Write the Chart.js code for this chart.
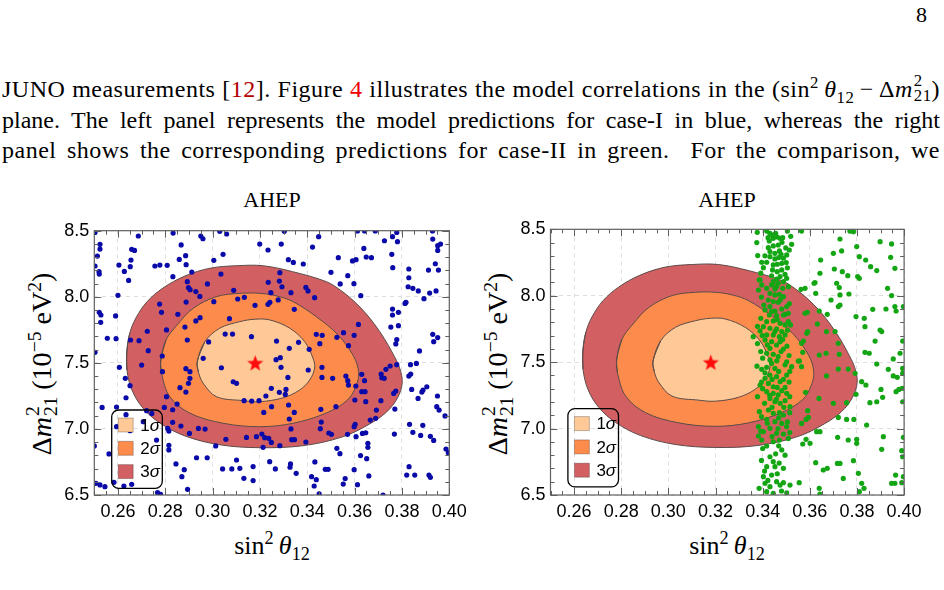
<!DOCTYPE html>
<html>
<head>
<meta charset="utf-8">
<script src="https://cdn.jsdelivr.net/npm/chart.js@4.4.1/dist/chart.umd.min.js"></script>
<style>
  html, body { margin: 0; padding: 0; background: #fff; }
  body { width: 944px; height: 590px; position: relative; overflow: hidden;
         font-family: "Liberation Serif", "Times New Roman", serif; color: #000; }
  .line { position: absolute; left: 2px; width: 938px; font-size: 24px; line-height: 1;
          text-align: justify; text-align-last: justify; }
  .wide { letter-spacing: 0.5px; }
  sup, sub { font-size: 0.7em; line-height: 0; }
  .ss { display: inline-block; position: relative; width: 0.74em; height: 0; margin-left: 1px; }
  .ss .sp, .ss .sb { position: absolute; left: 0; font-size: 0.7em; line-height: 1; }
  .ss .sp { bottom: 0.42em; }
  .ss .sb { top: -0.53em; }
  .ref { color: #b30000; }
  .fig { color: #ee0000; }
  .pageno { position: absolute; right: 17px; top: 4px; font-size: 22px; line-height: 1; }
  .title { position: absolute; top: 189px; font-size: 22px; line-height: 1; transform: translateX(-50%); white-space: nowrap; }
  .xtitle { position: absolute; top: 533px; font-size: 26px; line-height: 1; transform: translateX(-50%); white-space: nowrap; }
  .ytitle { position: absolute; font-size: 28px; line-height: 1; white-space: nowrap;
            transform: translate(-50%, -50%) rotate(-90deg); }
  canvas { position: absolute; top: 190px; }
</style>
</head>
<body>
<div class="pageno">8</div>
<div class="line wide" style="top:77px">JUNO measurements [<span class="ref">12</span>]. Figure <span class="fig">4</span> illustrates the model correlations in the (sin<sup>2</sup>&thinsp;<i>θ</i><sub>12</sub>&thinsp;−&thinsp;Δ<i>m</i><span class="ss"><span class="sp">2</span><span class="sb">21</span></span>)</div>
<div class="line" style="top:108px">plane. The left panel represents the model predictions for case-I in blue, whereas the right</div>
<div class="line wide" style="top:138px">panel shows the corresponding predictions for case-II in green. &nbsp;For the comparison, we</div>

<div class="title" style="left:272px">AHEP</div>
<div class="title" style="left:727px">AHEP</div>
<div class="xtitle" style="left:272px">sin<sup>2</sup>&thinsp;<i>θ</i><sub>12</sub></div>
<div class="xtitle" style="left:727px">sin<sup>2</sup>&thinsp;<i>θ</i><sub>12</sub></div>
<div class="ytitle" style="left:42px;top:364px">Δ<i>m</i><span class="ss"><span class="sp">2</span><span class="sb">21</span></span>&thinsp;(10<sup>−5</sup> eV<sup>2</sup>)</div>
<div class="ytitle" style="left:498px;top:364px">Δ<i>m</i><span class="ss"><span class="sp">2</span><span class="sb">21</span></span>&thinsp;(10<sup>−5</sup> eV<sup>2</sup>)</div>

<canvas id="left" width="475" height="380" style="left:0px"></canvas>
<canvas id="right" width="474" height="380" style="left:470px"></canvas>

<script>
// axis ranges and tick labels
const xRange = [0.25, 0.40];
const yRange = [6.5, 8.5];
const xTicks = [0.26, 0.28, 0.30, 0.32, 0.34, 0.36, 0.38, 0.40];
const yTicks = [6.5, 7.0, 7.5, 8.0, 8.5];
const xMinorStep = 0.005;
const yMinorStep = 0.1;

// best fit point
const bestFit = [0.318, 7.50];

// allowed regions (contour outlines)
const sigma1 = [[0.2935,7.508],[0.2967,7.660],[0.3030,7.762],[0.3115,7.812],[0.3178,7.830],[0.3241,7.825],[0.3326,7.762],[0.3389,7.660],[0.3424,7.535],[0.3431,7.461],[0.3410,7.370],[0.3368,7.295],[0.3297,7.235],[0.3199,7.206],[0.3129,7.214],[0.3016,7.244],[0.2960,7.346],[0.2940,7.430]];
const sigma2 = [[0.2781,7.522],[0.2803,7.673],[0.2850,7.787],[0.2918,7.913],[0.3016,8.001],[0.3115,8.026],[0.3199,8.026],[0.3271,8.006],[0.3340,7.963],[0.3438,7.849],[0.3530,7.711],[0.3597,7.545],[0.3617,7.424],[0.3605,7.320],[0.3570,7.219],[0.3481,7.121],[0.3340,7.043],[0.3199,7.017],[0.3044,7.043],[0.2904,7.119],[0.2819,7.244],[0.2784,7.421]];
const sigma3 = [[0.2638,7.598],[0.2650,7.726],[0.2676,7.840],[0.2722,7.961],[0.2790,8.066],[0.2883,8.157],[0.2989,8.216],[0.3102,8.235],[0.3212,8.235],[0.3338,8.190],[0.3481,8.114],[0.3540,8.050],[0.3592,7.975],[0.3642,7.885],[0.3686,7.787],[0.3725,7.685],[0.3760,7.575],[0.3790,7.462],[0.3801,7.348],[0.3781,7.234],[0.3735,7.128],[0.3663,7.037],[0.3549,6.940],[0.3381,6.873],[0.3199,6.858],[0.3030,6.880],[0.2883,6.947],[0.2777,7.045],[0.2705,7.159],[0.2659,7.295],[0.2638,7.446]];
const sigmaLabels = ['1', '2', '3'];
const sigmaColors = ['#fec996', '#fd8c4c', '#d26063'];

// case-I model predictions (blue)
const caseIPoints = [
[0.2503,8.487],[0.2524,8.397],[0.2524,8.361],[0.2513,8.308],[0.2503,8.233],[0.2520,8.190],[0.2521,8.172],[0.2686,8.460],[0.2833,8.482],[0.2950,8.460],[0.2959,8.439],[0.3030,8.495],[0.3059,8.475],[0.2658,8.359],[0.2670,8.351],[0.3199,8.399],[0.3234,8.354],[0.2867,8.392],[0.2886,8.311],[0.2859,8.283],[0.2655,8.278],[0.2652,8.228],[0.2604,8.240],[0.2627,8.192],[0.2645,8.124],[0.2756,8.233],[0.2777,8.240],[0.2808,8.238],[0.2888,8.243],[0.2832,8.152],[0.3044,8.321],[0.3005,8.276],[0.3035,8.172],[0.2912,8.187],[0.2893,8.114],[0.2898,8.069],[0.2905,8.054],[0.2929,8.039],[0.2946,8.003],[0.2978,8.097],[0.3089,8.049],[0.3106,7.983],[0.3134,7.996],[0.2600,8.011],[0.2521,7.882],[0.2528,7.862],[0.2527,7.807],[0.2590,7.855],[0.2555,7.686],[0.2592,7.683],[0.2776,7.945],[0.2784,7.882],[0.2853,7.867],[0.2888,7.960],[0.3005,7.963],[0.3179,7.935],[0.3234,7.943],[0.3071,7.834],[0.2883,7.771],[0.2929,7.817],[0.2947,7.842],[0.2893,7.673],[0.2805,7.749],[0.2724,7.739],[0.2653,7.673],[0.2689,7.668],[0.2728,7.592],[0.2787,7.552],[0.2983,7.658],[0.3053,7.718],[0.3084,7.718],[0.3164,7.698],[0.2960,7.534],[0.2503,7.580],
[0.3303,8.495],[0.3448,8.455],[0.3290,8.399],[0.3422,8.376],[0.3320,8.281],[0.3341,8.260],[0.3383,8.248],[0.3531,8.296],[0.3591,8.271],[0.3606,8.281],[0.3639,8.366],[0.3649,8.301],[0.3671,8.296],[0.3612,8.498],[0.3642,8.498],[0.3687,8.498],[0.3726,8.424],[0.3760,8.455],[0.3778,8.487],[0.3781,8.417],[0.3929,8.498],[0.3757,8.321],[0.3761,8.220],[0.3829,8.210],[0.3829,8.144],[0.3826,8.076],[0.3846,8.064],[0.3869,8.044],[0.3893,7.986],[0.3917,8.028],[0.3944,8.044],[0.3930,8.437],[0.3951,8.387],[0.3951,8.351],[0.3912,8.202],[0.3941,8.250],[0.3954,8.202],[0.3817,7.958],[0.3813,7.950],[0.3760,7.907],[0.3760,7.862],[0.3785,7.882],[0.3753,7.771],[0.3785,7.781],[0.3774,7.643],[0.3778,7.676],[0.3874,7.590],[0.3930,7.716],[0.3934,7.660],[0.3951,7.691],[0.3500,8.185],[0.3571,8.160],[0.3539,8.097],[0.3597,8.099],[0.3626,8.008],[0.3616,7.791],[0.3598,7.708],[0.3553,7.728],[0.3525,7.693],[0.3574,7.630],[0.3463,7.708],[0.3438,7.716],[0.3453,7.645],[0.3408,7.602],[0.3363,7.655],[0.3324,7.610],[0.3270,7.665],[0.3284,8.182],[0.3282,8.119],[0.3293,8.076],[0.3235,8.109],[0.3246,8.031],[0.3331,8.031],[0.3394,8.071],[0.3403,8.044],[0.3431,7.993],[0.3242,7.958],[0.3277,7.976],[0.3345,7.905],[0.3286,7.539],[0.3268,7.524],[0.3963,8.399],
[0.2700,7.483],[0.2788,7.433],[0.2606,7.466],[0.2631,7.383],[0.2651,7.327],[0.2634,7.236],[0.2887,7.456],[0.2904,7.433],[0.2904,7.383],[0.2898,7.345],[0.2862,7.312],[0.2887,7.279],[0.2805,7.244],[0.3037,7.463],[0.3087,7.357],[0.3101,7.345],[0.3133,7.214],[0.3165,7.211],[0.3196,7.214],[0.3216,7.125],[0.2850,7.188],[0.2831,7.145],[0.2796,7.163],[0.2533,7.163],[0.2594,7.166],[0.2721,7.138],[0.2743,7.117],[0.2707,7.055],[0.2831,7.050],[0.2866,7.022],[0.2810,7.004],[0.2815,6.984],[0.2902,6.966],[0.2940,7.004],[0.2968,6.999],[0.2500,6.871],[0.2562,6.811],[0.2594,7.017],[0.2634,7.108],[0.2651,6.987],[0.2763,6.916],[0.2815,6.876],[0.2815,6.841],[0.2845,6.735],[0.2880,6.692],[0.2870,6.639],[0.2894,6.543],[0.2767,6.518],[0.2780,6.505],[0.2932,6.782],[0.2977,6.782],[0.3013,6.871],[0.3056,6.921],[0.3042,6.697],[0.3081,6.697],[0.3101,6.765],[0.3115,6.702],[0.3171,6.715],[0.3241,6.752],[0.3132,6.626],[0.3213,6.861],[0.3185,6.941],[0.3143,6.936],[0.3171,6.609],[0.2507,6.588],[0.2524,6.576],[0.2545,6.563],[0.2583,6.596],[0.2625,6.568],[0.2658,6.581],
[0.3289,7.466],[0.3404,7.446],[0.3462,7.466],[0.3462,7.390],[0.3507,7.383],[0.3563,7.400],[0.3571,7.365],[0.3574,7.332],[0.3605,7.325],[0.3630,7.413],[0.3642,7.365],[0.3712,7.415],[0.3715,7.388],[0.3725,7.383],[0.3732,7.451],[0.3750,7.476],[0.3778,7.486],[0.3836,7.486],[0.3861,7.496],[0.3829,7.400],[0.3837,7.415],[0.3841,7.299],[0.3884,7.279],[0.3889,7.294],[0.3905,7.319],[0.3868,7.231],[0.3950,7.249],[0.3947,7.168],[0.3957,7.143],[0.3982,7.098],[0.3765,7.269],[0.3774,7.287],[0.3630,7.282],[0.3644,7.282],[0.3601,7.219],[0.3647,7.206],[0.3711,7.214],[0.3770,7.150],[0.3692,7.143],[0.3689,7.080],[0.3666,7.067],[0.3457,7.148],[0.3521,7.168],[0.3345,7.125],[0.3324,7.075],[0.3249,7.168],[0.3225,7.249],[0.3282,7.277],[0.3307,7.261],[0.3310,7.299],[0.3248,7.307],[0.3318,7.390],[0.3321,7.181],[0.3459,7.052],[0.3455,7.002],[0.3491,6.969],[0.3502,6.959],[0.3570,6.959],[0.3602,7.035],[0.3598,7.017],[0.3606,6.941],[0.3633,6.966],[0.3647,6.971],[0.3656,6.891],[0.3656,6.861],[0.3625,6.798],[0.3651,6.775],[0.3331,7.000],[0.3334,6.919],[0.3346,6.919],[0.3394,6.901],[0.3284,6.873],[0.3248,6.898],[0.3220,6.934],[0.3237,6.929],[0.3208,6.961],[0.3265,6.697],[0.3329,6.735],[0.3327,6.710],[0.3353,6.664],[0.3432,6.750],[0.3418,6.639],[0.3438,6.616],[0.3429,6.568],[0.3450,6.508],[0.3476,6.694],[0.3488,6.694],[0.3525,6.853],[0.3538,6.813],[0.3598,6.692],[0.3560,6.624],[0.3552,6.583],[0.3612,6.578],[0.3660,6.644],[0.3768,6.961],[0.3832,7.035],[0.3888,7.027],[0.3846,6.974],[0.3879,6.951],[0.3920,6.944],[0.3934,6.913],[0.3986,6.848],[0.3996,6.820],[0.3830,6.714],[0.3820,6.651],[0.3854,6.651],[0.3914,6.651],[0.3920,6.634],[0.3720,6.500]
];

// case-II model predictions (green)
const caseIIPoints = [
[0.3377,8.477],[0.3417,8.487],[0.3431,8.470],[0.3441,8.457],[0.3423,8.437],[0.3428,8.412],[0.3445,8.432],[0.3462,8.442],[0.3474,8.432],[0.3485,8.437],[0.3482,8.402],[0.3466,8.382],[0.3445,8.375],[0.3424,8.362],[0.3431,8.332],[0.3452,8.319],[0.3471,8.337],[0.3478,8.312],[0.3468,8.287],[0.3452,8.277],[0.3431,8.294],[0.3519,8.447],[0.3523,8.387],[0.3513,8.344],[0.3502,8.307],[0.3488,8.282],[0.3481,8.244],[0.3462,8.237],[0.3445,8.232],[0.3417,8.252],[0.3396,8.252],[0.3403,8.211],[0.3379,8.302],[0.3505,8.487],[0.3565,8.487],[0.3770,8.487],[0.3785,8.482],[0.3442,8.194],[0.3462,8.181],[0.3481,8.194],[0.3495,8.161],[0.3474,8.144],[0.3459,8.126],[0.3445,8.106],[0.3466,8.094],[0.3488,8.106],[0.3502,8.131],[0.3509,8.068],[0.3485,8.056],[0.3459,8.068],[0.3438,8.081],[0.3417,8.056],[0.3389,8.119],[0.3396,8.081],[0.3382,8.043],[0.3431,8.018],[0.3452,8.006],[0.3471,8.011],[0.3488,7.993],[0.3424,7.968],[0.3445,7.956],[0.3466,7.951],[0.3431,7.918],[0.3410,7.893],[0.3452,7.885],[0.3481,7.900],[0.3502,7.918],[0.3509,7.868],[0.3488,7.855],[0.3459,7.850],[0.3428,7.855],[0.3417,7.805],[0.3445,7.810],[0.3474,7.792],[0.3495,7.780],[0.3509,7.805],[0.3403,7.767],[0.3431,7.755],[0.3459,7.750],[0.3481,7.730],[0.3389,7.735],[0.3417,7.705],[0.3445,7.705],[0.3471,7.692],[0.3495,7.705],[0.3360,7.692],[0.3410,7.667],[0.3438,7.654],[0.3459,7.629],[0.3431,7.604],[0.3417,7.567],[0.3445,7.559],[0.3466,7.542],[0.3431,7.517],[0.3488,7.599],[0.3474,7.654],
[0.3392,8.170],[0.3438,8.150],[0.3505,8.210],[0.3452,8.050],[0.3395,7.990],[0.3475,7.970],[0.3513,7.940],[0.3405,7.930],[0.3438,7.880],[0.3496,7.860],[0.3392,7.830],[0.3462,7.820],[0.3518,7.780],[0.3378,7.770],[0.3452,7.730],[0.3505,7.740],[0.3398,7.700],[0.3485,7.670],[0.3378,7.640],[0.3420,7.630],[0.3503,7.620],[0.3392,7.580],[0.3478,7.580],[0.3512,7.550],[0.3400,7.530],[0.3460,7.510],[0.3495,7.480],[0.3376,7.470],[0.3468,7.430],[0.3410,7.420],[0.3515,7.430],[0.3440,7.370],[0.3395,7.350],[0.3512,7.350],[0.3462,7.310],[0.3400,7.300],[0.3495,7.310],[0.3430,7.250],[0.3378,7.240],[0.3515,7.240],[0.3458,7.220],[0.3408,7.190],[0.3490,7.160],[0.3440,7.160],[0.3515,7.120],[0.3395,7.090],[0.3468,7.080],[0.3505,7.050],[0.3420,7.040],[0.3465,7.000],[0.3392,6.980],[0.3440,6.940],[0.3515,6.970],[0.3468,6.870],[0.3400,6.850],[0.3455,6.810],[0.3395,6.760],[0.3470,6.740],[0.3408,6.680],[0.3462,6.660],[0.3385,6.550],[0.3480,6.530],[0.3422,6.610],[0.3495,6.800],[0.3375,8.400],[0.3498,8.360],[0.3410,8.300],[0.3500,8.250],[0.3455,8.470],[0.3385,8.120],
[0.3728,8.427],[0.3898,8.407],[0.3947,8.390],[0.3799,8.370],[0.3735,8.337],[0.3700,8.319],[0.3810,8.294],[0.3837,8.269],[0.3858,8.219],[0.3943,8.289],[0.3646,8.269],[0.3643,8.169],[0.3704,8.201],[0.3738,8.181],[0.3761,8.151],[0.3803,8.144],[0.3810,8.131],[0.3884,8.189],[0.3961,8.206],[0.3622,8.099],[0.3618,8.094],[0.3714,8.094],[0.3725,8.061],[0.3766,8.013],[0.3728,8.006],[0.3690,7.968],[0.3728,7.930],[0.3721,7.918],[0.3580,8.056],[0.3563,8.048],[0.3625,8.018],[0.3580,7.868],[0.3589,7.875],[0.3640,7.885],[0.3674,7.860],[0.3796,7.843],[0.3831,7.830],[0.3867,7.898],[0.3923,7.900],[0.3961,7.918],[0.3966,7.885],[0.3930,8.056],[0.3947,8.001],[0.3997,7.918],[0.3834,7.767],[0.3632,7.787],[0.3591,7.730],[0.3587,7.717],[0.3671,7.730],[0.3707,7.730],[0.3898,7.742],[0.3905,7.730],[0.3877,7.659],[0.3994,7.659],[0.3573,7.659],[0.3565,7.642],[0.3721,7.642],[0.3570,7.574],[0.3640,7.554],[0.3669,7.567],[0.3725,7.559],[0.3834,7.574],[0.3852,7.567],[0.3983,7.567],[0.3954,7.524],[0.3556,7.509],
[0.3396,7.446],[0.3417,7.461],[0.3438,7.491],[0.3452,7.453],[0.3431,7.403],[0.3459,7.391],[0.3410,7.378],[0.3389,7.328],[0.3424,7.340],[0.3445,7.315],[0.3474,7.353],[0.3488,7.370],[0.3502,7.403],[0.3523,7.466],[0.3417,7.278],[0.3445,7.265],[0.3466,7.253],[0.3481,7.285],[0.3502,7.265],[0.3431,7.227],[0.3452,7.202],[0.3474,7.190],[0.3495,7.210],[0.3516,7.165],[0.3386,7.127],[0.3424,7.140],[0.3445,7.115],[0.3471,7.120],[0.3488,7.102],[0.3417,7.069],[0.3452,7.052],[0.3481,7.039],[0.3502,7.014],[0.3431,7.002],[0.3403,6.977],[0.3382,6.944],[0.3396,6.914],[0.3459,6.964],[0.3488,6.959],[0.3509,6.926],[0.3445,6.901],[0.3417,6.869],[0.3481,6.839],[0.3431,6.788],[0.3445,6.751],[0.3417,6.713],[0.3452,6.713],[0.3488,6.701],[0.3403,6.638],[0.3438,6.650],[0.3410,6.588],[0.3431,6.563],[0.3459,6.600],[0.3474,6.575],[0.3417,6.525],[0.3445,6.512],[0.3502,6.517],[0.3382,7.014],[0.3471,6.914],
[0.3502,7.503],[0.3551,7.508],[0.3565,7.466],[0.3671,7.396],[0.3721,7.448],[0.3763,7.448],[0.3792,7.416],[0.3820,7.353],[0.3838,7.328],[0.3884,7.486],[0.3933,7.446],[0.3954,7.396],[0.3971,7.386],[0.3994,7.416],[0.3994,7.453],[0.3902,7.295],[0.3966,7.278],[0.3978,7.295],[0.3992,7.303],[0.3582,7.273],[0.3639,7.227],[0.3700,7.190],[0.3756,7.195],[0.3796,7.258],[0.3855,7.195],[0.3884,7.202],[0.3909,7.235],[0.3994,7.202],[0.3591,7.135],[0.3594,7.084],[0.3584,7.069],[0.3565,7.039],[0.3629,6.977],[0.3643,6.977],[0.3721,7.084],[0.3756,7.069],[0.3787,7.069],[0.3841,7.027],[0.3718,6.934],[0.3763,6.914],[0.3799,6.919],[0.3799,6.889],[0.3912,6.939],[0.3905,6.844],[0.3997,6.934],[0.3990,6.834],[0.3994,6.788],[0.3584,6.919],[0.3601,6.889],[0.3570,6.884],[0.3625,6.743],[0.3657,6.688],[0.3674,6.701],[0.3717,6.738],[0.3728,6.738],[0.3785,6.758],[0.3806,6.663],[0.3742,6.625],[0.3820,6.588],[0.3830,6.550],[0.3810,6.525],[0.3947,6.588],[0.3961,6.588],[0.3964,6.650],[0.3997,6.638],[0.3990,6.593],[0.3640,6.550],[0.3643,6.507],[0.3555,6.593],[0.3516,6.575],[0.3488,6.593]
];

const toXY = arr => arr.map(p => ({ x: p[0], y: p[1] }));
// wrap the outline one point past each end so the spline joins smoothly
const closed = arr => toXY([arr[arr.length - 1]].concat(arr, [arr[0], arr[1]]));

function makeStar(r, color) {
  const size = Math.ceil(r * 2 + 2);
  const c = document.createElement('canvas');
  c.width = size; c.height = size;
  const g = c.getContext('2d');
  g.translate(size / 2, size / 2 + r * 0.1);
  g.beginPath();
  for (let i = 0; i < 10; i++) {
    const rad = i % 2 ? r * 0.42 : r;
    const a = -Math.PI / 2 + i * Math.PI / 5;
    g.lineTo(rad * Math.cos(a), rad * Math.sin(a));
  }
  g.closePath();
  g.fillStyle = color;
  g.fill();
  return c;
}
const starImg = makeStar(8.5, '#ff0d0d');

// frame with inward ticks, like the original plot frame
const framePlugin = {
  id: 'frame',
  afterDatasetsDraw(chart) {
    const { ctx, chartArea: a, scales: { x, y } } = chart;
    ctx.save();
    ctx.strokeStyle = '#606060';
    ctx.lineWidth = 1;
    ctx.beginPath();
    const nx = Math.round((xRange[1] - xRange[0]) / xMinorStep);
    for (let i = 0; i <= nx; i++) {
      const v = xRange[0] + i * xMinorStep;
      const major = xTicks.some(t => Math.abs(t - v) < 1e-6);
      const len = major ? 7 : 4;
      const px = Math.round(x.getPixelForValue(v)) + 0.5;
      ctx.moveTo(px, a.bottom); ctx.lineTo(px, a.bottom - len);
      ctx.moveTo(px, a.top); ctx.lineTo(px, a.top + len);
    }
    const ny = Math.round((yRange[1] - yRange[0]) / yMinorStep);
    for (let i = 0; i <= ny; i++) {
      const v = yRange[0] + i * yMinorStep;
      const major = yTicks.some(t => Math.abs(t - v) < 1e-6);
      const len = major ? 7 : 4;
      const py = Math.round(y.getPixelForValue(v)) + 0.5;
      ctx.moveTo(a.left, py); ctx.lineTo(a.left + len, py);
      ctx.moveTo(a.right, py); ctx.lineTo(a.right - len, py);
    }
    ctx.stroke();
    ctx.lineWidth = 1.2;
    ctx.strokeRect(a.left, a.top, a.width, a.height);

    // sigma legend
    const bx = a.left + 17.4, by = a.top + 179.3, bw = 50.6, bh = 78.3;
    ctx.lineWidth = 1.3;
    ctx.strokeStyle = '#000';
    ctx.beginPath();
    ctx.roundRect(bx, by, bw, bh, 7);
    ctx.stroke();
    sigmaLabels.forEach((lab, i) => {
      const cy = by + 15 + i * 23.3;
      ctx.fillStyle = sigmaColors[i];
      ctx.fillRect(bx + 6.5, cy - 7, 15, 14);
      ctx.strokeStyle = 'rgba(0,0,0,0.25)';
      ctx.lineWidth = 1;
      ctx.strokeRect(bx + 6.5, cy - 7, 15, 14);
      ctx.fillStyle = '#000';
      ctx.textBaseline = 'middle';
      ctx.font = '17px "Liberation Sans", Arial, sans-serif';
      ctx.fillText(lab, bx + 28.5, cy + 1);
      const w = ctx.measureText(lab).width;
      ctx.font = 'italic 17px "Liberation Sans", Arial, sans-serif';
      ctx.fillText('σ', bx + 28.5 + w, cy + 1);
    });
    ctx.restore();
  }
};

function buildChart(id, points, color, area) {
  const tickFont = { family: '"Liberation Sans", Arial, sans-serif', size: 18 };
  const region = (outline, i) => ({
    data: closed(outline), showLine: true, pointRadius: 0, tension: 0.35,
    borderColor: '#5b4b48', borderWidth: 1, backgroundColor: sigmaColors[i], fill: 'shape', order: 2 + i
  });
  return new Chart(document.getElementById(id), {
    type: 'scatter',
    data: {
      datasets: [
        { data: [{ x: bestFit[0], y: bestFit[1] }], pointStyle: starImg, pointRadius: 9, order: 0 },
        { data: toXY(points), pointRadius: 2.6, backgroundColor: color, borderWidth: 0, order: 1 },
        region(sigma1, 0),
        region(sigma2, 1),
        region(sigma3, 2)
      ]
    },
    options: {
      responsive: false,
      animation: false,
      events: [],
      layout: { padding: { left: 0, top: area.top, right: area.right, bottom: 35 } },
      plugins: { legend: { display: false }, tooltip: { enabled: false } },
      scales: {
        x: {
          type: 'linear', min: xRange[0], max: xRange[1],
          afterBuildTicks: s => { s.ticks = xTicks.map(v => ({ value: v })); },
          afterFit: s => { s.height = 40; },
          ticks: { autoSkip: false, maxRotation: 0, padding: 6, color: '#000', font: tickFont,
                   callback: v => Number(v).toFixed(2) },
          grid: { color: '#dedede', lineWidth: 1, drawTicks: false },
          border: { display: false, dash: [4, 4] }
        },
        y: {
          type: 'linear', min: yRange[0], max: yRange[1],
          afterBuildTicks: s => { s.ticks = yTicks.map(v => ({ value: v })); },
          afterFit: s => { s.width = area.left; },
          ticks: { autoSkip: false, padding: 5, color: '#000', font: tickFont,
                   callback: v => Number(v).toFixed(1) },
          grid: { color: '#dedede', lineWidth: 1, drawTicks: false },
          border: { display: false, dash: [4, 4] }
        }
      }
    },
    plugins: [framePlugin]
  });
}

buildChart('left', caseIPoints, '#0a0aa8', { left: 94.3, top: 40.7, right: 25.7 });
buildChart('right', caseIIPoints, '#14a514', { left: 80.5, top: 39.3, right: 39.9 });
</script>
</body>
</html>
